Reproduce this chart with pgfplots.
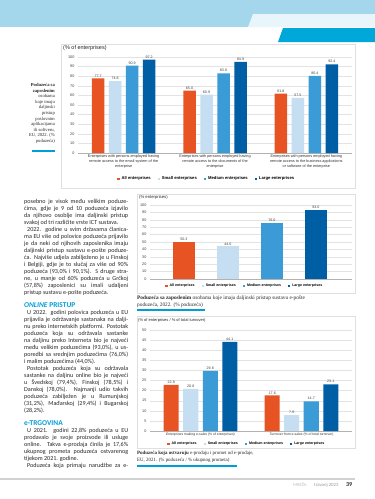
\documentclass[border=0pt]{standalone}
\usepackage{fontspec}
\setmainfont{Liberation Sans}
\newfontfamily\bodyfont{Carlito}
\newfontfamily\capfont{Liberation Serif}
\usepackage{pgfplots}
\pgfplotsset{compat=1.18}
\usepackage{pgfplotstable}
\definecolor{allc}{RGB}{232,83,35}
\definecolor{smallc}{RGB}{198,222,241}
\definecolor{medc}{RGB}{58,155,215}
\definecolor{largec}{RGB}{0,94,165}
\definecolor{bandc}{RGB}{164,214,236}
\definecolor{lightband}{RGB}{232,245,251}
\definecolor{cyanc}{RGB}{0,168,218}
\definecolor{headc}{RGB}{0,158,214}
\definecolor{txt}{RGB}{40,40,40}

\pgfplotstableread{
x all small medium large
0 77.7 74.8 90.9 97.2
1 65.0 60.9 83.0 94.9
2 61.8 57.5 80.4 92.4
}\remotetab
\pgfplotstableread{
x all small medium large
0 22.8 20.8 29.8 44.1
1 17.6 7.9 14.7 23.1
}\salestab

\pgfplotsset{
 ybar legend/.style={legend image code/.code={\fill[##1] (0pt,-1.1pt) rectangle (2.2pt,1.1pt);}},
 pagebar/.style={
  scale only axis,
  ybar,
  ymin=0,
  axis x line*=bottom,
  axis y line*=left,
  y axis line style={draw=none},
  x axis line style={draw=gray!60, line width=0.4pt},
  major tick length=0pt,
  ymajorgrids,
  grid style={gray!22, line width=0.3pt},
  /pgf/number format/assume math mode=true,
  yticklabel style={font=\fontsize{3.8}{4}\selectfont, text=black!75},
  nodes near coords={\pgfmathprintnumber[fixed,fixed zerofill,precision=1]{\pgfplotspointmeta}},
  nodes near coords style={font=\fontsize{3.6}{4}\selectfont, text=black!75, inner sep=1.2pt},
  legend style={draw=none, fill=none, legend columns=4, /tikz/every even column/.append style={column sep=5pt}, inner sep=0pt, legend cell align=left},
  clip=false,
 },
 sall/.style={fill=allc, draw=none},
 ssmall/.style={fill=smallc, draw=none},
 smed/.style={fill=medc, draw=none},
 slarge/.style={fill=largec, draw=none},
}
\newcommand{\J}[1]{\makebox[104pt][s]{#1}}

\begin{document}
\begin{tikzpicture}
\useasboundingbox (0,0) rectangle (375pt,-499pt);
\fill[white] (0,0) rectangle (375pt,-499pt);
% header
\fill[bandc] (0,0) rectangle (375pt,-27pt);
\fill[lightband] (253pt,-14pt) -- (375pt,-14pt) -- (375pt,-27pt) -- (248pt,-27pt) -- cycle;
\fill[cyanc] (283pt,-28pt) -- (375pt,-28pt) -- (375pt,-42pt) -- (278pt,-42pt) -- cycle;

% ===== top chart
\draw[gray!25, line width=0.4pt] (61pt,-44pt) rectangle (355pt,-188pt);
\node[anchor=west, inner sep=0, font=\fontsize{5.5}{6}\selectfont, text=black!85] at (63pt,-48.5pt) {(\% of enterprises)};
\begin{axis}[pagebar, at={(78pt,-153pt)}, anchor=south west, width=274pt, height=96pt,
  ymax=100, ytick={0,10,...,100}, xmin=-0.5, xmax=2.5, xtick={0,1,2},
  bar width=12.5pt, ybar=4.5pt,
  xticklabels={{Enterprises with persons employed having\\remote access to the email system of the\\enterprise},
    {Enterprises with persons employed having\\remote access to the documents of the\\enterprise},
    {Enterprises with persons employed having\\remote access to the business applications\\or software of the enterprise}},
  xticklabel style={align=center, font=\fontsize{3.8}{4.9}\selectfont, text=black!80, inner sep=1.5pt},
  legend style={at={(0.47,-0.27)}, anchor=center, font=\bfseries\fontsize{4.2}{5}\selectfont}]
\addplot[sall] table[x=x,y=all]{\remotetab};
\addplot[ssmall] table[x=x,y=small]{\remotetab};
\addplot[smed] table[x=x,y=medium]{\remotetab};
\addplot[slarge] table[x=x,y=large]{\remotetab};
\legend{All enterprises, Small enterprises, Medium enterprises, Large enterprises}
\end{axis}
\node[anchor=north east, align=right, inner sep=0, font=\capfont\fontsize{4.6}{5.6}\selectfont, text=txt] at (55pt,-83pt)
 {\textbf{Poduzeća sa}\\\textbf{zaposlenim}\\osobama\\koje imaju\\daljinski\\pristup\\poslovnim\\aplikacijama\\ili softveru,\\EU, 2022. (\%\\poduzeća)};
\draw[headc, line width=1.3pt] (32pt,-151pt) -- (55pt,-151pt);

% ===== body text
\node[anchor=north west, align=left, inner sep=0, font=\bodyfont\fontsize{6.1}{7}\selectfont, text=txt] at (24pt,-199pt) {%
\J{posebno je visok među velikim poduze-}\\
\J{ćima, gdje je 9 od 10 poduzeća izjavilo}\\
\J{da njihovo osoblje ima daljinski pristup}\\
svakoj od tri različite vrste ICT sustava.\\
\J{\hspace*{3pt}2022. godine u svim državama članica-}\\
\J{ma EU više od polovice poduzeća prijavilo}\\
\J{je da neki od njihovih zaposlenika imaju}\\
\J{daljinski pristup sustavu e-pošte poduze-}\\
\J{ća. Najviše udjela zabilježeno je u Finskoj}\\
\J{i Belgiji, gdje je to slučaj za više od 90\%}\\
\J{poduzeća (93,0\% i 90,1\%). S druge stra-}\\
\J{ne, u manje od 60\% poduzeća u Grčkoj}\\
\J{(57,8\%) zaposlenici su imali udaljeni}\\
pristup sustavu e-pošte poduzeća.};
\node[anchor=west, inner sep=0, font=\bodyfont\bfseries\fontsize{7.4}{8}\selectfont, text=headc] at (24pt,-305pt) {\textit{ONLINE} PRISTUP};
\node[anchor=north west, align=left, inner sep=0, font=\bodyfont\fontsize{6.1}{7}\selectfont, text=txt] at (24pt,-310.5pt) {%
\J{\hspace*{3pt}U 2022. godini polovica poduzeća u EU}\\
\J{prijavila je održavanje sastanaka na dalji-}\\
\J{nu preko internetskih platformi. Postotak}\\
\J{poduzeća koja su održavala sastanke}\\
\J{na daljinu preko Interneta bio je najveći}\\
\J{među velikim poduzećima (93,0\%), u us-}\\
\J{poredbi sa srednjim poduzećima (76,0\%)}\\
i malim poduzećima (44,0\%).\\
\J{\hspace*{3pt}Postotak poduzeća koja su održavala}\\
\J{sastanke na daljinu online bio je najveći}\\
\J{u Švedskoj (79,4\%), Finskoj (78,5\%) i}\\
\J{Danskoj (78,0\%). Najmanji udio takvih}\\
\J{poduzeća zabilježen je u Rumunjskoj}\\
\J{(31,2\%), Mađarskoj (29,4\%) i Bugarskoj}\\
(28,2\%).};
\node[anchor=west, inner sep=0, font=\bodyfont\bfseries\fontsize{7.4}{8}\selectfont, text=headc] at (24pt,-423pt) {e-TRGOVINA};
\node[anchor=north west, align=left, inner sep=0, font=\bodyfont\fontsize{6.1}{7}\selectfont, text=txt] at (24pt,-428pt) {%
\J{\hspace*{3pt}U 2021. godini 22,8\% poduzeća u EU}\\
\J{prodavalo je svoje proizvode ili usluge}\\
\J{online. Takva e-prodaja činila je 17,6\%}\\
\J{ukupnog prometa poduzeća ostvarenog}\\
tijekom 2021. godine.\\
\J{\hspace*{3pt}Poduzeća koja primaju narudžbe za e-}};

% ===== middle chart
\draw[gray!25, line width=0.4pt] (137pt,-194pt) rectangle (355pt,-293pt);
\node[anchor=west, inner sep=0, font=\fontsize{4.2}{5}\selectfont, text=black!85] at (139pt,-197.5pt) {(\% enterprises)};
\begin{axis}[pagebar, at={(150pt,-279pt)}, anchor=south west, width=202pt, height=74pt,
  ymax=100, ytick={0,10,...,100}, xmin=-0.77, xmax=3.82, xtick=\empty,
  bar width=22pt,
  legend style={at={(0.47,-0.095)}, anchor=center, font=\bfseries\fontsize{3.6}{4}\selectfont}]
\addplot[sall, bar shift=0pt] coordinates {(0,50.3)};
\addplot[ssmall, bar shift=0pt] coordinates {(1,44.0)};
\addplot[smed, bar shift=0pt] coordinates {(2,76.0)};
\addplot[slarge, bar shift=0pt] coordinates {(3,93.0)};
\legend{All enterprises, Small enterprises, Medium enterprises, Large enterprises}
\end{axis}
\node[anchor=north west, align=left, inner sep=0, font=\capfont\fontsize{5.3}{7}\selectfont, text=txt] at (137pt,-295.5pt)
 {\textbf{Poduzeća sa zaposlenim} osobama koje imaju daljinski pristup sustavu e-pošte\\poduzeća, 2022. (\% poduzeća)};
\draw[headc, line width=1.3pt] (137pt,-310pt) -- (205pt,-310pt);

% ===== bottom chart
\draw[gray!25, line width=0.4pt] (137pt,-316pt) rectangle (355pt,-448pt);
\node[anchor=west, inner sep=0, font=\fontsize{4}{5}\selectfont, text=black!85] at (138pt,-320.5pt) {(\% of enterprises / \% of total turnover)};
\begin{axis}[pagebar, at={(150pt,-431pt)}, anchor=south west, width=202pt, height=101pt,
  ymax=50, ytick={0,5,...,50}, xmin=-0.5, xmax=1.5, xtick={0,1},
  bar width=15pt, ybar=4.5pt,
  xticklabels={Enterprises making e-sales (\% of enterprises), Turnover from e-sales (\% of total turnover)},
  xticklabel style={font=\fontsize{3.4}{4}\selectfont, text=black!80, inner sep=1.5pt},
  legend style={at={(0.48,-0.13)}, anchor=center, font=\bfseries\fontsize{3.6}{4}\selectfont}]
\addplot[sall] table[x=x,y=all]{\salestab};
\addplot[ssmall] table[x=x,y=small]{\salestab};
\addplot[smed] table[x=x,y=medium]{\salestab};
\addplot[slarge] table[x=x,y=large]{\salestab};
\legend{All enterprises, Small enterprises, Medium enterprises, Large enterprises}
\end{axis}
\node[anchor=north west, align=left, inner sep=0, font=\capfont\fontsize{4.9}{7.5}\selectfont, text=txt] at (137pt,-450.5pt)
 {\textbf{Poduzeća koja ostvaruju} e-prodaju i promet od e-prodaje,\\EU, 2021. (\% poduzeća / \% ukupnog prometa)};
\draw[headc, line width=1.3pt] (137pt,-466pt) -- (237pt,-466pt);

% ===== footer
\draw[gray!35, line width=1.3pt] (0pt,-479pt) -- (355pt,-479pt);
\node[anchor=base west, inner sep=0, font=\bodyfont\fontsize{4.6}{5}\selectfont, text=gray!50] at (293pt,-486pt) {MREŽA};
\node[anchor=base west, inner sep=0, font=\bodyfont\fontsize{4.8}{5}\selectfont, text=gray!80] at (314pt,-486pt) {travanj 2023};
\node[anchor=base west, inner sep=0, font=\bodyfont\bfseries\fontsize{6}{6}\selectfont, text=black!85] at (346pt,-486pt) {39};
\end{tikzpicture}
\end{document}
